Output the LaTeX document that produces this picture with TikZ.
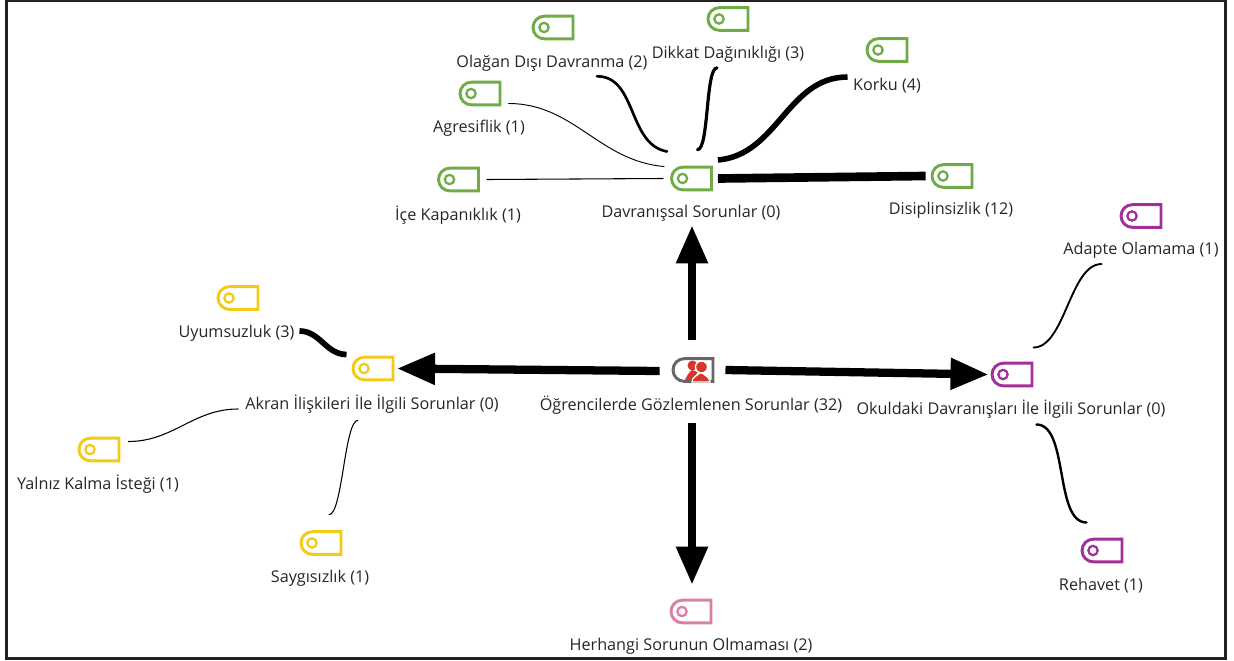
\documentclass[tikz,border=0pt]{standalone}
\usepackage{fontspec}
\setmainfont{Open Sans}
\usetikzlibrary{arrows.meta,shapes.misc}
\definecolor{tgreen}{HTML}{6FAC46}
\definecolor{tyellow}{HTML}{F2CB16}
\definecolor{tpurple}{HTML}{A2309A}
\definecolor{tpink}{HTML}{DB7FA6}
\definecolor{tgrey}{HTML}{666666}
\definecolor{tred}{HTML}{D9352A}
\tikzset{
    tagbox/.style={rounded rectangle,rounded rectangle right arc=none,draw=#1,line width=2.2pt,minimum width=30pt,minimum height=17pt,inner sep=0pt},
    tagdot/.style={circle,draw=#1,line width=1.7pt,minimum size=7pt,inner sep=0pt},
    taglabel/.style={font=\fontsize{12.15}{14}\selectfont,text=black!85,inner sep=0pt},
    bigarrow/.style={-{Triangle[length=28.5pt,width=22.5pt]},line width=6.2pt,black},
    link/.style={line width=#1,black,line cap=round}
}
\begin{document}
\begin{tikzpicture}[x=0.75pt,y=-0.75pt]
    \useasboundingbox (0,0) rectangle (1234,660);
    \draw [line width=2pt,black!87] (6.5,1) rectangle (1225.5,658.5);

    % tags and their labels
    \foreach \nm/\px/\py/\cl/\lx/\ly/\tx in {
        davr/691.5/178.5/tgreen/691/213.5/Davranışsal Sorunlar (0),
        olag/553/27.5/tgreen/552/63.5/Olağan Dışı Davranma (2),
        agre/480/93.5/tgreen/479/128.5/Agresiflik (1),
        icek/458.5/179.5/tgreen/458/215.5/İçe Kapanıklık (1),
        dikk/728/19/tgreen/728/54.5/Dikkat Dağınıklığı (3),
        kork/887/50/tgreen/887/85.5/Korku (4),
        disi/952/176/tgreen/951/210.5/Disiplinsizlik (12),
        adap/1141/216/tpurple/1141/250.5/Adapte Olamama (1),
        okul/1012/374.5/tpurple/1011/409.5/Okuldaki Davranışları İle İlgili Sorunlar (0),
        reha/1102/550.5/tpurple/1101/585.5/Rehavet (1),
        herh/691/611.5/tpink/691/646.5/Herhangi Sorunun Olmaması (2),
        akra/373/368.5/tyellow/372/404.5/Akran İlişkileri İle İlgili Sorunlar (0),
        uyum/238/298/tyellow/236.5/333.5/Uyumsuzluk (3),
        yaln/99/449.5/tyellow/98/484.5/Yalnız Kalma İsteği (1),
        sayg/321/543/tyellow/320/578.5/Saygısızlık (1)%
    }{
        \node [tagbox=\cl] (\nm) at (\px,\py) {};
        \node [tagdot=\cl] (\nm-dot) at (\px-9,\py) {};
        \node [taglabel] (\nm-label) at (\lx,\ly) {\tx};
    }

    % root
    \node [tagbox=tgrey] (root) at (693,370) {};
    \node [taglabel] (root-label) at (691,405.5) {Öğrencilerde Gözlemlenen Sorunlar (32)};
    \fill [tred] (692.5,365.5) circle (5);
    \fill [tred] (685,380) to [out=65,in=-140] (692,370) -- (698,372) -- (692,380) -- cycle;
    \draw [white,fill=tred,line width=1pt] (692,382) to [out=90,in=-135] (701,372) to [out=-45,in=90] (710,382) -- cycle;
    \draw [white,fill=tred,line width=1pt] (701.5,367) circle (6);

    % main arrows
    \draw [bigarrow] ([shift={(-1,-17)}]root.north) -- ([shift={(0.5,34)}]davr.south);
    \draw [bigarrow] ([shift={(-12,1)}]root.west) -- ([shift={(2.5,0)}]akra.east);
    \draw [bigarrow] ([shift={(11,0)}]root.east) -- ([shift={(-2,0)}]okul.west);
    \draw [bigarrow] ([shift={(-1,40.5)}]root.south) -- ([shift={(1,-14)}]herh.north);

    % links, line width follows the count
    \draw [link=0.8pt] ([shift={(7,0)}]icek.east) to ([shift={(-7,0)}]davr.west);
    \draw [link=0.7pt] ([shift={(7,10)}]agre.east) to [out=0,in=175] ([shift={(-6,-12)}]davr.west);
    \draw [link=2pt] ([shift={(44,36)}]olag.south) to [out=0,in=170] ([shift={(-3,-27)}]davr.west);
    \draw [link=2.4pt] ([shift={(-11,36)}]dikk.south) to [out=180,in=0,looseness=0.35] ([shift={(6,-16)}]davr.north);
    \draw [link=4.2pt,line cap=butt] ([shift={(5,-18.5)}]davr.east) to [out=5,in=180] ([shift={(-18,27)}]kork.west);
    \draw [link=6.5pt,line cap=butt] ([shift={(5,0)}]davr.east) to ([shift={(-5,0)}]disi.west);
    \draw [link=1.4pt] ([shift={(0,-27)}]okul.east) to [out=0,in=180,looseness=0.75] ([shift={(-18,48)}]adap.west);
    \draw [link=1.8pt] ([shift={(3,50)}]okul.east) to [out=0,in=180,looseness=0.75] ([shift={(6,-28)}]reha.west);
    \draw [link=4.3pt,line cap=butt] ([shift={(40,33)}]uyum.east) to [out=0,in=180] ([shift={(-5,-14)}]akra.west);
    \draw [link=0.8pt] ([shift={(8,-8)}]yaln.east) to [out=0,in=180] ([shift={(-113.5,40.5)}]akra.west);
    \draw [link=0.8pt] ([shift={(8,-15.5)}]sayg.north) to [out=0,in=180,looseness=0.35] ([shift={(-15,39)}]akra.south);
\end{tikzpicture}
\end{document}
